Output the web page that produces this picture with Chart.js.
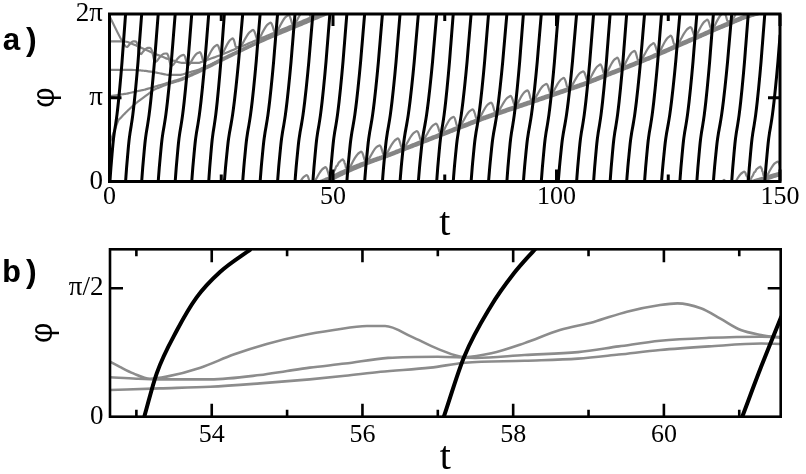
<!DOCTYPE html>
<html><head><meta charset="utf-8">
<script src="https://cdn.jsdelivr.net/npm/chart.js@4.4.0/dist/chart.umd.min.js"></script>
<style>
html,body{margin:0;padding:0;background:#fff;width:806px;height:474px;overflow:hidden}
canvas{position:absolute;left:0}
#ca{top:0}
#cb{top:240px}
</style></head><body>
<canvas id="ca" width="806" height="245"></canvas>
<canvas id="cb" width="806" height="234"></canvas>
<script>
const TAU = 2 * Math.PI;

// ---------- panel a data ----------
// times where the fast (black) phase passes through 0
const aBlackZeroT = [0.1, 3.6, 7.2, 10.9, 14.7, 18.4, 22.2, 25.7, 29.8, 33.7, 37.6, 41.5, 45.5, 49.3, 53.1, 57.08, 61.06, 65.0, 69.1, 73.2, 76.9, 80.9, 84.8, 88.9, 92.6, 96.6, 100.4, 104.5, 108.3, 112.0, 115.7, 119.7, 123.5, 127.6, 131.4, 135.1, 139.2, 142.9, 146.6, 150.4];
// shape of one lap of the black phase in panel a (time offset, phase)
const lapT   = [0, 0.25, 0.55, 0.83, 1.07, 1.35, 1.77, 2.15, 2.48, 2.78, 3.06, 3.31, 3.56, 3.955];
const lapPhi = [0, 0.531, 1.06, 1.51, 1.795, 2.06, 2.5, 3.0, 3.5, 4.0, 4.5, 5.0, 5.5, 6.283];
// bump of the upper grey oscillator, counted from the moment the black line crosses it
const bumpFrac = [0, 0.14, 0.24, 0.39, 0.54, 0.66, 0.74, 0.81, 0.87, 0.94];
const bumpVal  = [0.0, 0.06, 0.16, 0.3, 0.4, 0.43, 0.44, 0.37, 0.24, 0.07];
// slow (grey) phases, unwrapped, read at these times
const aGrayT = [0, 2, 4, 6, 8, 10, 13, 16, 20, 25, 30, 35, 40, 45, 50, 53, 57, 61.5, 70, 84, 95, 106, 121, 136, 142, 150];
const aGrayA = [6.2, 5.5, 4.95, 4.8, 4.65, 4.5, 4.35, 4.3, 4.4, 4.75, 5.1, 5.45, 5.8, 6.15, 6.5, 6.74, 7.01, 7.26, 7.82, 8.73, 9.35, 9.98, 10.98, 12.08, 12.5, 12.9];
const aGrayB = [5.26, 5.26, 5.24, 5.1, 4.95, 4.8, 4.6, 4.45, 4.45, 4.75, 5.1, 5.45, 5.8, 6.15, 6.5, 6.74, 7.01, 7.26, 7.82, 8.73, 9.35, 9.98, 10.98, 12.08, 12.5, 12.9];
const aGrayD = [4.19, 4.19, 4.19, 4.18, 4.15, 4.1, 4.0, 4.0, 4.2, 4.55, 4.95, 5.32, 5.67, 6.02, 6.37, 6.61, 6.9, 7.17, 7.72, 8.63, 9.25, 9.88, 10.88, 11.98, 12.4, 12.8];
const aGrayE = [3.2, 3.25, 3.3, 3.38, 3.45, 3.55, 3.7, 3.85, 4.15, 4.6, 5.0, 5.38, 5.74, 6.09, 6.44, 6.68, 6.95, 7.21, 7.77, 8.68, 9.3, 9.93, 10.93, 12.03, 12.45, 12.85];
const aGrayF = [1.43, 2.3, 2.65, 2.95, 3.2, 3.45, 3.65, 3.8, 4.1, 4.52, 4.93, 5.35, 5.7, 6.06, 6.41, 6.65, 6.93, 7.19, 7.75, 8.66, 9.28, 9.91, 10.91, 12.0, 12.42, 12.82];
const aXTicks = [0, 50, 100, 150];
const aXMinor = [25, 75, 125];
const aYTicks = [0, Math.PI, 2 * Math.PI];
const aYLabels = ['0', 'π', '2π'];

// ---------- panel b data ----------
const bBlackT   = [53.105, 53.27, 53.54, 53.80, 54.11, 54.52, null, 57.08, 57.35, 57.7, 58.01, 58.3, null, 61.04, 61.29, 61.56];
const bBlackPhi = [0, 0.531, 1.06, 1.46, 1.77, 2.05, null, 0, 0.734, 1.346, 1.754, 2.06, null, 0, 0.61, 1.23];
const bGrayAT   = [52.65, 52.78, 52.96, 53.18, 53.4, 53.85, 54.29, 54.73, 55.18, 55.62, 56.06, 56.3, 56.65, 57.0, 57.36, 57.71, 58.15, 58.62, 59.07, 59.51, 59.95, 60.18, 60.49, 60.75, 61.02, 61.29, 61.55];
const bGrayAPhi = [0.673, 0.61, 0.53, 0.465, 0.49, 0.60, 0.76, 0.89, 0.99, 1.06, 1.11, 1.11, 0.98, 0.83, 0.73, 0.775, 0.90, 1.06, 1.16, 1.285, 1.367, 1.387, 1.326, 1.20, 1.06, 1.0, 0.965];
const bGrayBT   = [52.65, 53.0, 53.31, 53.98, 54.64, 55.0, 55.3, 55.77, 56.34, 57.0, 57.5, 58.15, 58.86, 59.4, 59.95, 60.6, 61.29, 61.55];
const bGrayBPhi = [0.482, 0.465, 0.457, 0.457, 0.51, 0.56, 0.60, 0.65, 0.72, 0.734, 0.72, 0.755, 0.79, 0.86, 0.93, 0.965, 0.979, 0.975];
const bGrayDT   = [52.65, 53.31, 53.98, 54.64, 55.3, 55.77, 56.24, 56.9, 57.36, 58.15, 58.86, 59.4, 59.95, 60.6, 61.29, 61.55];
const bGrayDPhi = [0.327, 0.347, 0.367, 0.408, 0.457, 0.50, 0.55, 0.60, 0.66, 0.685, 0.71, 0.76, 0.816, 0.86, 0.895, 0.89];
const bXTicks = [54, 56, 58, 60];
const bXMinor = [53, 55, 57, 59, 61];
const bYTicks = [0, Math.PI / 2];
const bYLabels = ['0', 'π/2'];

// ---------- builders ----------
function interp(ts, vs, t) {
  if (t <= ts[0]) return vs[0];
  for (let i = 1; i < ts.length; i++) {
    if (t <= ts[i]) { const f = (t - ts[i-1]) / (ts[i] - ts[i-1]); return vs[i-1] + f * (vs[i] - vs[i-1]); }
  }
  return vs[vs.length - 1];
}
function wrapPhase(raw) {
  const out = []; let prev = null;
  for (const p of raw) {
    const n = Math.floor(p.u / TAU);
    if (prev && n !== prev.n) {
      const up = n > prev.n; const B = (up ? n : prev.n) * TAU;
      const tc = prev.t + (B - prev.u) / (p.u - prev.u) * (p.t - prev.t);
      out.push({x: tc, y: up ? TAU : 0}); out.push({x: tc, y: null}); out.push({x: tc, y: up ? 0 : TAU});
    }
    out.push({x: p.t, y: p.u - n * TAU});
    prev = {t: p.t, u: p.u, n};
  }
  return out;
}
function grayPoints(vals, bumpy) {
  const raw = [{t: 0, u: vals[0]}];
  const L = lapT[lapT.length - 1];
  for (let k = 0; k < aBlackZeroT.length - 1; k++) {
    const c0 = aBlackZeroT[k], d = aBlackZeroT[k+1] - c0;
    let anchor = c0;
    if (bumpy) {
      const level = ((interp(aGrayT, vals, c0 + 0.3 * d) % TAU) + TAU) % TAU;
      anchor = c0 + interp(lapPhi, lapT, level) * d / L;
    }
    for (let j = 0; j < bumpFrac.length; j++) {
      const t = anchor + bumpFrac[j] * d;
      if (t <= 0) continue;
      raw.push({t, u: interp(aGrayT, vals, t) + (bumpy ? bumpVal[j] : 0)});
    }
  }
  raw.sort((p, q) => p.t - q.t);
  return wrapPhase(raw);
}
function blackPoints() {
  const out = []; const L = lapT[lapT.length - 1];
  for (let k = 0; k < aBlackZeroT.length - 1; k++) {
    const c0 = aBlackZeroT[k], s = (aBlackZeroT[k+1] - c0) / L;
    for (let j = 0; j < lapT.length; j++) out.push({x: c0 + lapT[j] * s, y: lapPhi[j]});
    out.push({x: aBlackZeroT[k+1], y: null});
  }
  return out;
}
function pairs(ts, vs) { return ts.map((t, i) => ({x: t, y: vs[i]})); }

// ---------- frame / ticks / panel label plugin ----------
const framePlugin = {
  id: 'frame',
  afterDatasetsDraw(chart, args, o) {
    const {ctx, chartArea: {left, right, top, bottom}, scales: {x, y}} = chart;
    ctx.save();
    ctx.strokeStyle = '#000'; ctx.lineWidth = o.lw; ctx.lineCap = 'butt';
    ctx.strokeRect(left, top, right - left, bottom - top);
    ctx.beginPath();
    const xt = (vals, len) => { for (const v of vals) { const p = x.getPixelForValue(v);
      ctx.moveTo(p, bottom); ctx.lineTo(p, bottom - len); ctx.moveTo(p, top); ctx.lineTo(p, top + len); } };
    xt(o.xMajor, o.major); xt(o.xMinor, o.minor);
    for (const v of o.yMajor) { const p = y.getPixelForValue(v);
      ctx.moveTo(left, p); ctx.lineTo(left + o.major, p); ctx.moveTo(right, p); ctx.lineTo(right - o.major, p); }
    ctx.stroke();
    ctx.fillStyle = '#000'; ctx.font = o.labelFont; ctx.textBaseline = 'alphabetic'; ctx.textAlign = 'left';
    ctx.fillText(o.label, o.lx, o.ly);
    ctx.restore();
  }
};

const SERIF = '"Liberation Serif", serif';
const MONO = '"Liberation Mono", monospace';

function makeChart(id, cfg) {
  return new Chart(document.getElementById(id), {
    type: 'line',
    data: {datasets: cfg.datasets},
    options: {
      responsive: false, animation: false, events: [], devicePixelRatio: 1,
      layout: {padding: {left: 0, right: cfg.padRight, top: cfg.padTop, bottom: 0}},
      plugins: {legend: {display: false}, tooltip: {enabled: false}, frame: cfg.frame},
      elements: {point: {radius: 0}},
      scales: {
        x: {
          type: 'linear', min: cfg.xmin, max: cfg.xmax,
          grid: {display: false, drawTicks: false}, border: {display: false},
          afterBuildTicks: s => { s.ticks = cfg.xTicks.map(v => ({value: v})); },
          afterFit: s => { s.height = cfg.xAxisH; s.paddingLeft = 0; s.paddingRight = 0; },
          ticks: {color: '#000', font: {family: SERIF, size: 26, lineHeight: 1.2}, padding: cfg.xTickPad, maxRotation: 0, autoSkip: false,
                  callback: v => String(v)},
          title: {display: true, text: 't', color: '#000', font: {family: SERIF, size: 40, lineHeight: 1.0}, padding: {top: 0, bottom: cfg.tPad}}
        },
        y: {
          type: 'linear', min: cfg.ymin, max: cfg.ymax,
          grid: {display: false, drawTicks: false}, border: {display: false},
          afterBuildTicks: s => { s.ticks = cfg.yTicks.map(v => ({value: v})); },
          afterFit: s => { s.width = cfg.yAxisW; s.paddingTop = 0; s.paddingBottom = 0; },
          ticks: {color: '#000', font: {family: SERIF, size: 27, lineHeight: 1.0}, padding: 6.5, autoSkip: false,
                  callback: (v, i) => cfg.yLabels[i]},
          title: {display: true, text: 'φ', color: '#000', font: {family: MONO, size: 32, lineHeight: 1.0}, padding: {top: cfg.phiPad, bottom: 0}}
        }
      }
    },
    plugins: [framePlugin]
  });
}

const grayA = '#858585', grayB = '#8c8c8c';
const lineBase = {pointRadius: 0, fill: false, spanGaps: false, borderCapStyle: 'butt', borderJoinStyle: 'round', cubicInterpolationMode: 'monotone'};

function drawAll() {
  makeChart('ca', {
    datasets: [
      Object.assign({data: blackPoints(), borderColor: '#000', borderWidth: 3}, lineBase),
      Object.assign({data: grayPoints(aGrayA, true), borderColor: grayA, borderWidth: 2.2}, lineBase),
      Object.assign({data: grayPoints(aGrayB, false), borderColor: grayA, borderWidth: 2.2}, lineBase),
      Object.assign({data: grayPoints(aGrayD, false), borderColor: grayA, borderWidth: 2.2}, lineBase),
      Object.assign({data: grayPoints(aGrayE, false), borderColor: grayA, borderWidth: 2.2}, lineBase),
      Object.assign({data: grayPoints(aGrayF, false), borderColor: grayA, borderWidth: 2.2}, lineBase)
    ],
    xmin: 0, xmax: 150, ymin: 0, ymax: 2 * Math.PI,
    xTicks: aXTicks, yTicks: aYTicks, yLabels: aYLabels,
    padRight: 26, padTop: 14, xAxisH: 245 - 181.5, yAxisW: 109.5,
    xTickPad: 0, tPad: 1, phiPad: 30,
    frame: {lw: 3, major: 12, minor: 7, xMajor: aXTicks, xMinor: aXMinor, yMajor: [Math.PI],
            label: 'a)', labelFont: 'bold 32px ' + MONO, lx: 2, ly: 50}
  });

  makeChart('cb', {
    datasets: [
      Object.assign({data: pairs(bBlackT, bBlackPhi), borderColor: '#000', borderWidth: 4}, lineBase),
      Object.assign({data: pairs(bGrayAT, bGrayAPhi), borderColor: grayB, borderWidth: 2.6}, lineBase),
      Object.assign({data: pairs(bGrayBT, bGrayBPhi), borderColor: grayB, borderWidth: 2.6}, lineBase),
      Object.assign({data: pairs(bGrayDT, bGrayDPhi), borderColor: grayB, borderWidth: 2.6}, lineBase)
    ],
    xmin: 52.65, xmax: 61.55, ymin: 0, ymax: 2.048,
    xTicks: bXTicks, yTicks: bYTicks, yLabels: bYLabels,
    padRight: 806 - 780.7, padTop: 9.3, xAxisH: 234 - 176.7, yAxisW: 110,
    xTickPad: 3, tPad: -4, phiPad: 28,
    frame: {lw: 2.6, major: 13, minor: 7, xMajor: bXTicks, xMinor: bXMinor, yMajor: [Math.PI / 2],
            label: 'b)', labelFont: 'bold 32px ' + MONO, lx: 2, ly: 42}
  });
}

const fontLoads = ['26px "Liberation Serif"', '40px "Liberation Serif"', '32px "Liberation Mono"', 'bold 32px "Liberation Mono"']
  .map(f => document.fonts.load(f, '0123456789tπφa)b').catch(() => null));
Promise.all(fontLoads).then(drawAll, drawAll);
</script>
</body></html>
